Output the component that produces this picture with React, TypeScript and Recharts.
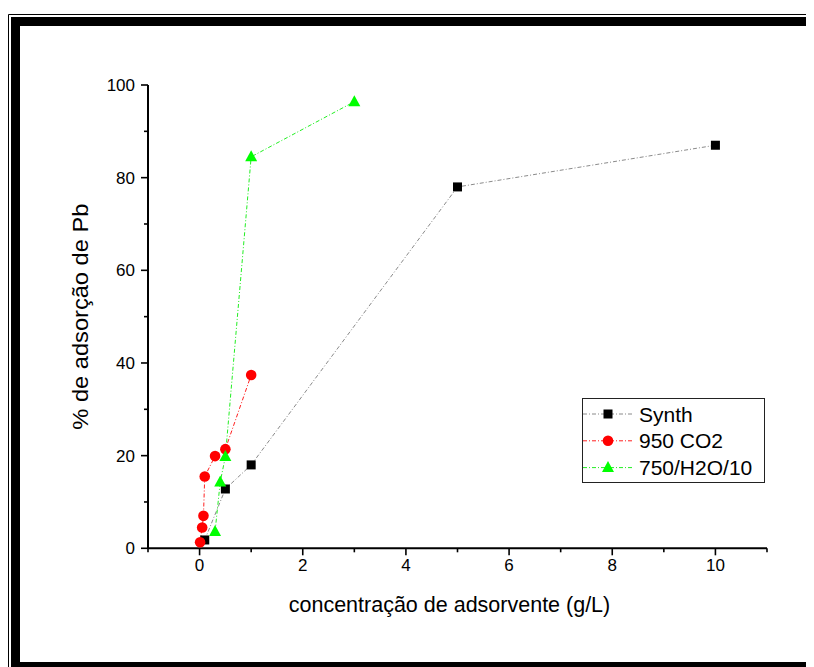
import React from 'react';
import { LineChart, Line, XAxis, YAxis, Legend, Label } from 'recharts';

// ---- data ----
const synthX = [0.1, 0.5, 1, 5, 10];
const synthY = [1.8, 12.8, 18, 78, 87];
const co2X = [0.01, 0.05, 0.075, 0.1, 0.3, 0.5, 1];
const co2Y = [1.3, 4.5, 7, 15.5, 19.9, 21.4, 37.4];
const h2oX = [0.3, 0.4, 0.5, 1, 3];
const h2oY = [3.6, 14.3, 19.8, 84.5, 96.4];

const seriesNames = ['Synth', '950 CO2', '750/H2O/10'];
const seriesColors = ['#000000', '#ff0000', '#00ff00'];
const lineColors = ['#8a8a8a', '#ff2020', '#22ee22'];
const seriesShapes = ['square', 'circle', 'triangle'];

const xTicks = [-1, 0, 1, 2, 3, 4, 5, 6, 7, 8, 9, 10, 11];
const xTickLabels = ['0', '2', '4', '6', '8', '10'];
const yTicks = [0, 10, 20, 30, 40, 50, 60, 70, 80, 90, 100];
const yTickLabels = ['0', '20', '40', '60', '80', '100'];

const xTitle = 'concentração de adsorvente (g/L)';
const yTitle = '% de adsorção de Pb';

const toData = (xs: number[], ys: number[]) => xs.map((x, i) => ({ x, y: ys[i] }));
const synthData = toData(synthX, synthY);
const co2Data = toData(co2X, co2Y);
const h2oData = toData(h2oX, h2oY);
const allData = [synthData, co2Data, h2oData];

const FONT = '"Liberation Sans", Arial, Helvetica, sans-serif';
const DASH = '4 2 1 2';

const Marker = ({ shape, cx, cy, color }: any) => {
  if (shape === 'square') {
    return <rect x={cx - 4.5} y={cy - 4.5} width={9} height={9} fill={color} />;
  }
  if (shape === 'circle') {
    return <circle cx={cx} cy={cy} r={5.3} fill={color} />;
  }
  return (
    <polygon
      points={`${cx},${cy - 6.5} ${cx - 6},${cy + 4.5} ${cx + 6},${cy + 4.5}`}
      fill={color}
    />
  );
};

const makeDot = (i: number) => (p: any) => (
  <Marker
    key={`d-${i}-${p.index}`}
    shape={seriesShapes[i]}
    cx={p.cx}
    cy={p.cy}
    color={seriesColors[i]}
  />
);

const XTick = (props: any) => {
  const { x, y, payload } = props;
  const v = payload.value;
  const label = xTickLabels.find((s) => Number(s) === v);
  const major = label !== undefined;
  return (
    <g>
      <line x1={x} x2={x} y1={y} y2={y + (major ? 7 : 4)} stroke="#000" strokeWidth={1.6} />
      {major && (
        <text x={x} y={y + 23} textAnchor="middle" fontSize={17} fontFamily={FONT} fill="#000">
          {label}
        </text>
      )}
    </g>
  );
};

const YTick = (props: any) => {
  const { x, y, payload } = props;
  const v = payload.value;
  const label = yTickLabels.find((s) => Number(s) === v);
  const major = label !== undefined;
  return (
    <g>
      <line x1={x - (major ? 7 : 4)} x2={x} y1={y} y2={y} stroke="#000" strokeWidth={1.6} />
      {major && (
        <text x={x - 13} y={y + 6} textAnchor="end" fontSize={17} fontFamily={FONT} fill="#000">
          {label}
        </text>
      )}
    </g>
  );
};

const renderLegend = () => (
  <svg width={184} height={86} style={{ display: 'block', overflow: 'visible' }}>
    <rect x={0.5} y={0.5} width={182} height={84} fill="#fff" stroke="#222" strokeWidth={1} />
    {seriesNames.map((n, i) => {
      const cy = 16 + i * 26.8;
      return (
        <g key={n}>
          <line x1={1} x2={50} y1={cy} y2={cy} stroke={lineColors[i]} strokeWidth={1} strokeDasharray={DASH} />
          <Marker shape={seriesShapes[i]} cx={26} cy={cy} color={seriesColors[i]} />
          <text x={57} y={cy + 7.5} fontSize={21} fontFamily={FONT} fill="#000">
            {n}
          </text>
        </g>
      );
    })}
  </svg>
);

export default function App() {
  return (
    <div style={{ position: 'relative', width: 806, height: 659 }}>
      <LineChart
        width={806}
        height={659}
        margin={{ top: 77, right: 47, bottom: 58.7, left: 80 }}
      >
        <XAxis
          dataKey="x"
          type="number"
          domain={[-1, 11]}
          ticks={xTicks}
          interval={0}
          height={60}
          tickSize={0}
          tickMargin={0}
          tickLine={false}
          axisLine={{ stroke: '#000', strokeWidth: 2 }}
          tick={<XTick />}
          allowDataOverflow
        >
          <Label
            content={(p: any) => {
              const vb = p.viewBox;
              return (
                <text
                  x={vb.x + vb.width / 2 - 8}
                  y={vb.y + 64}
                  textAnchor="middle"
                  fontSize={21.5}
                  fontFamily={FONT}
                  fill="#000"
                >
                  {xTitle}
                </text>
              );
            }}
          />
        </XAxis>
        <YAxis
          type="number"
          domain={[0, 100]}
          ticks={yTicks}
          interval={0}
          width={60}
          tickSize={0}
          tickMargin={0}
          tickLine={false}
          axisLine={{ stroke: '#000', strokeWidth: 2 }}
          tick={<YTick />}
          allowDataOverflow
        >
          <Label
            content={(p: any) => {
              const vb = p.viewBox;
              const cx = vb.x + vb.width - 60;
              const cy = vb.y + vb.height / 2;
              return (
                <text
                  x={cx}
                  y={cy}
                  transform={`rotate(-90 ${cx} ${cy})`}
                  textAnchor="middle"
                  fontSize={22}
                  textLength={226}
                  lengthAdjust="spacingAndGlyphs"
                  fontFamily={FONT}
                  fill="#000"
                >
                  {yTitle}
                </text>
              );
            }}
          />
        </YAxis>
        <Legend
          layout="horizontal"
          verticalAlign="middle"
          align="center"
          width={184}
          height={86}
          wrapperStyle={{ left: 574, top: 390, width: 184, height: 86 }}
          content={renderLegend}
        />
        {allData.map((d, i) => (
          <Line
            key={seriesNames[i]}
            name={seriesNames[i]}
            data={d}
            dataKey="y"
            stroke={lineColors[i]}
            strokeWidth={1}
            strokeDasharray={DASH}
            dot={makeDot(i)}
            activeDot={false}
            isAnimationActive={false}
            legendType="none"
          />
        ))}
      </LineChart>
      <svg
        width={806}
        height={659}
        style={{ position: 'absolute', left: 0, top: 0, pointerEvents: 'none' }}
      >
        <line x1={0.5} y1={6.5} x2={0.5} y2={659} stroke="#000" strokeWidth={1} />
        <line x1={0.5} y1={6.5} x2={806} y2={6.5} stroke="#000" strokeWidth={1} />
        <rect x={3} y={9} width={9} height={650} fill="#000" />
        <rect x={3} y={9} width={803} height={9} fill="#000" />
        <rect x={3} y={654} width={803} height={5} fill="#000" />
      </svg>
    </div>
  );
}
